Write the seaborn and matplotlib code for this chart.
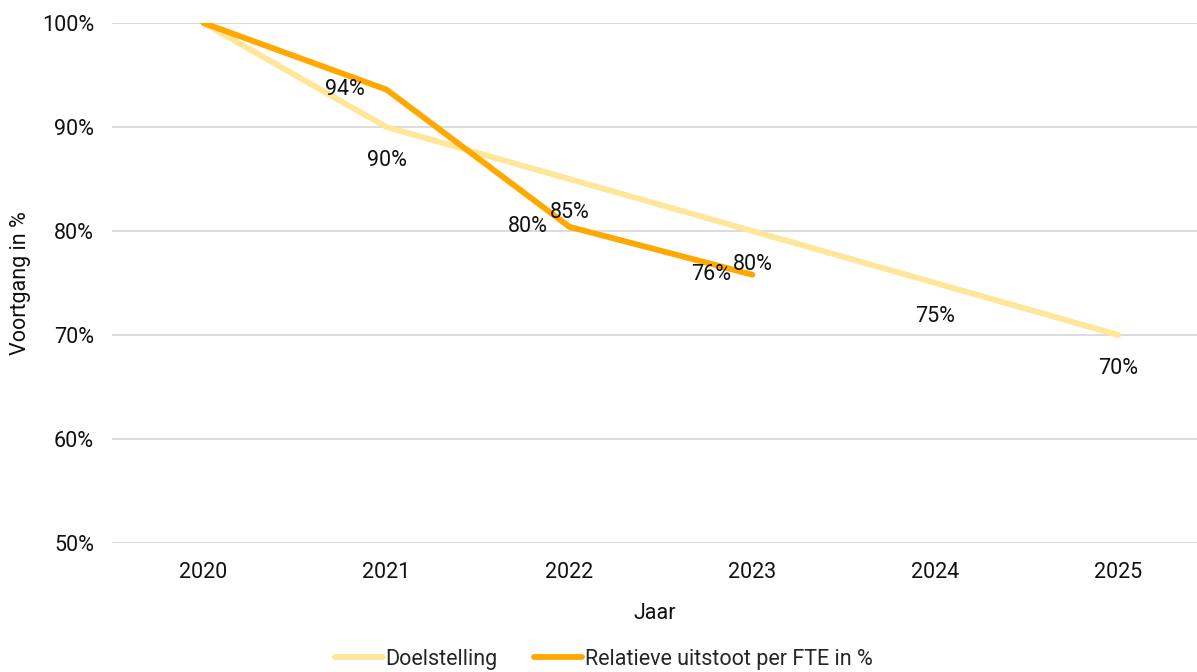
import matplotlib
matplotlib.use("Agg")
import matplotlib.pyplot as plt
from matplotlib.lines import Line2D
import seaborn as sb
import numpy as np
import pandas as pd

jaren = ['2020', '2021', '2022', '2023', '2024', '2025']
doel = [100, 90, 85, 80, 75, 70]
rel_jaren = ['2020', '2021', '2022', '2023']
relatief = [100, 93.6, 80.4, 75.8]
doel_labels = ['', '90%', '85%', '80%', '75%', '70%']
rel_labels = ['', '94%', '80%', '76%']

c_doel = '#FFE699'
c_rel = '#FFA800'

sb.set_theme(style="white")
plt.rcParams['font.family'] = ['Roboto', 'DejaVu Sans']

df = pd.DataFrame({
    'Jaar': jaren + rel_jaren,
    'Waarde': doel + relatief,
    'Reeks': ['Doelstelling'] * len(jaren) + ['Relatieve uitstoot per FTE in %'] * len(rel_jaren),
})

fig = plt.figure(figsize=(11.97, 6.72), dpi=100)
ax = fig.add_axes([112 / 1197, 1 - 543 / 672, 1 - 112 / 1197, (543 - 23) / 672])

sb.lineplot(data=df, x='Jaar', y='Waarde', hue='Reeks', palette=[c_doel, c_rel],
            linewidth=4.2, ax=ax, legend=False, sort=False)
for ln in ax.lines:
    ln.set_solid_capstyle('round')
    ln.set_solid_joinstyle('round')

ax.set_ylim(50, 100)
ax.set_xlim(-0.5, 5.43)
ax.set_yticks(np.arange(50, 101, 10))
ax.set_yticklabels([f'{v}%' for v in range(50, 101, 10)])
ax.yaxis.grid(True, color='#d9d9d9', linewidth=1.3, zorder=0)
ax.set_axisbelow(True)
for s in ax.spines.values():
    s.set_visible(False)
ax.tick_params(axis='both', length=0, labelsize=15.5, colors='#111111')
ax.tick_params(axis='x', pad=14)
ax.tick_params(axis='y', pad=13)
ax.set_xlabel('Jaar', fontsize=15.5, color='#111111', labelpad=14)
ax.set_ylabel('Voortgang in %', fontsize=15.5, color='#111111', labelpad=8)

# data labels: target below the point, actual value left of the point
for i, (v, t) in enumerate(zip(doel, doel_labels)):
    if t:
        ax.annotate(t, (i, v), xytext=(0, -24), textcoords='offset points',
                    ha='center', va='center', fontsize=15.5, color='#111111')
for i, (v, t) in enumerate(zip(relatief, rel_labels)):
    if t:
        ax.annotate(t, (i, v), xytext=(-30, 0), textcoords='offset points',
                    ha='center', va='center', fontsize=15.5, color='#111111')

handles = [Line2D([], [], color=c_doel, lw=4.2, solid_capstyle='round'),
           Line2D([], [], color=c_rel, lw=4.2, solid_capstyle='round')]
fig.legend(handles, ['Doelstelling', 'Relatieve uitstoot per FTE in %'],
           loc='center left', bbox_to_anchor=(333 / 1197, 1 - 659 / 672), ncol=2,
           frameon=False, fontsize=15.5, handlelength=2.2, handletextpad=0.15,
           columnspacing=1.7, borderpad=0.1, borderaxespad=0)

fig.savefig('out.png', dpi=100)
